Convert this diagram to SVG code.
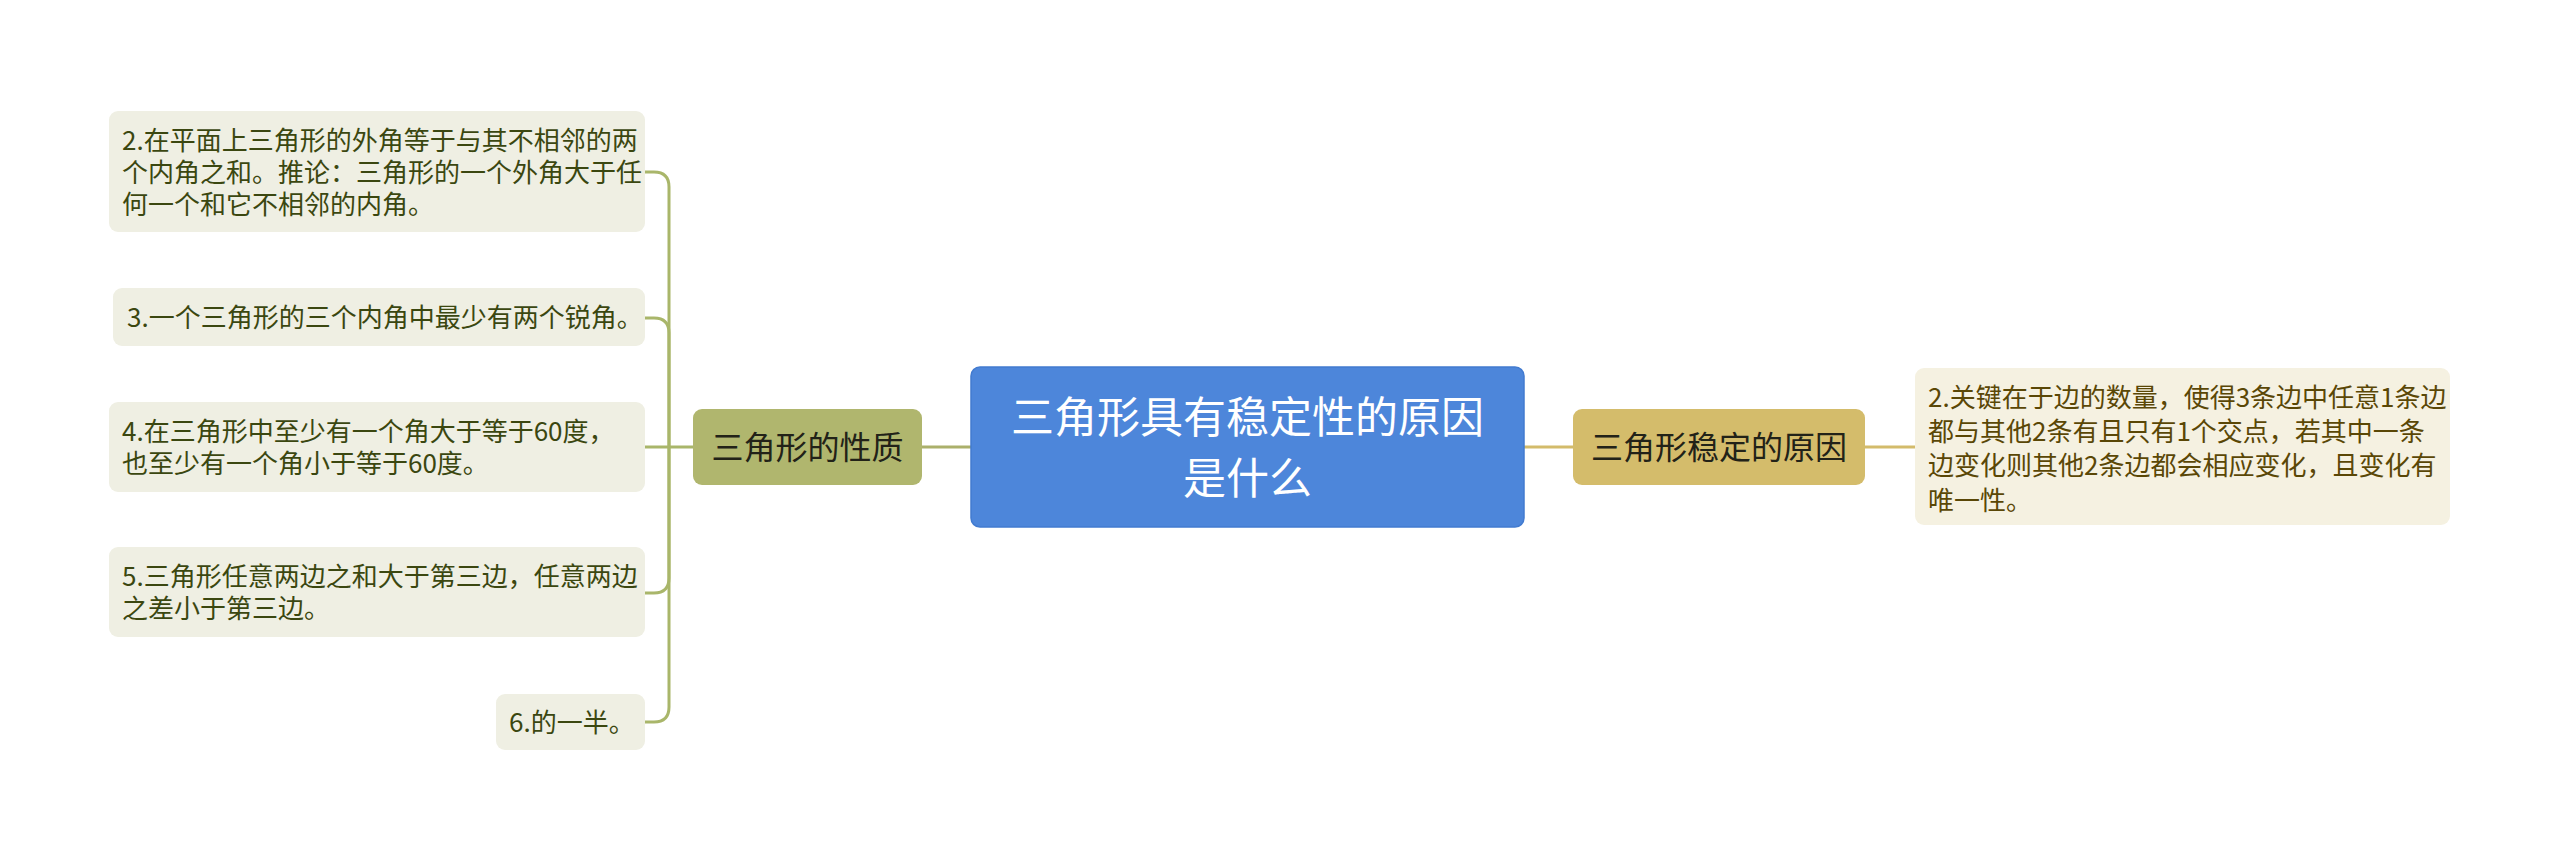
<svg xmlns="http://www.w3.org/2000/svg" width="2560" height="861" viewBox="0 0 2560 861">
<style>
text{font-family:"Noto Sans CJK SC","Noto Sans",sans-serif;}
.leaf{fill:#efefe3;}
.leaft{font-size:26px;fill:#3b4710;}
.rleaf{fill:#f5f1e1;}
.rleaft{font-size:26px;fill:#5a4706;}
.l1{fill:#b0b66e;}
.l1r{fill:#d4bc6b;}
.l1t{font-size:32px;fill:#222218;text-anchor:middle;}
.root{fill:#4d86da;stroke:#427bd0;stroke-width:1.5;}
.roott{font-size:43px;fill:#ffffff;text-anchor:middle;}
.cl{fill:none;stroke:#a9b66a;stroke-width:3;}
.cr{fill:none;stroke:#d3bb6b;stroke-width:3;}
</style>
<rect width="2560" height="861" fill="#ffffff"/>
<g id="connectors">
<path class="cl" d="M693,447 H645"/>
<path class="cl" d="M669,447 V187 Q669,172 654,172 H645"/>
<path class="cl" d="M669,447 V333 Q669,318 654,318 H645"/>
<path class="cl" d="M669,447 V578 Q669,593 654,593 H645"/>
<path class="cl" d="M669,447 V707 Q669,722 654,722 H645"/>
<path class="cl" d="M922,447 H971" style="stroke:#abb06b"/>
<path class="cr" d="M1524,447 H1573"/>
<path class="cr" d="M1865,447 H1915"/>
</g>
<g id="root">
<rect class="root" x="971" y="367" width="553" height="160" rx="9"/>
<text class="roott"><tspan x="1247.5" y="433">三角形具有稳定性的原因</tspan><tspan x="1247.5" y="494">是什么</tspan></text>
</g>
<g id="n-xingzhi">
<rect class="l1" x="693" y="409" width="229" height="76" rx="9"/>
<text class="l1t" x="807.5" y="459">三角形的性质</text>
</g>
<g id="n-yuanyin">
<rect class="l1r" x="1573" y="409" width="292" height="76" rx="9"/>
<text class="l1t" x="1719" y="459">三角形稳定的原因</text>
</g>
<g id="leaf2">
<rect class="leaf" x="109" y="111" width="536" height="121" rx="9"/>
<text class="leaft"><tspan x="122" y="149.5">2.在平面上三角形的外角等于与其不相邻的两</tspan><tspan x="122" y="181.5">个内角之和。推论：三角形的一个外角大于任</tspan><tspan x="122" y="213.5">何一个和它不相邻的内角。</tspan></text>
</g>
<g id="leaf3">
<rect class="leaf" x="113" y="288" width="532" height="58" rx="9"/>
<text class="leaft" x="127" y="327">3.一个三角形的三个内角中最少有两个锐角。</text>
</g>
<g id="leaf4">
<rect class="leaf" x="109" y="402" width="536" height="90" rx="9"/>
<text class="leaft"><tspan x="122" y="441">4.在三角形中至少有一个角大于等于60度，</tspan><tspan x="122" y="473">也至少有一个角小于等于60度。</tspan></text>
</g>
<g id="leaf5">
<rect class="leaf" x="109" y="547" width="536" height="90" rx="9"/>
<text class="leaft"><tspan x="122" y="586">5.三角形任意两边之和大于第三边，任意两边</tspan><tspan x="122" y="618">之差小于第三边。</tspan></text>
</g>
<g id="leaf6">
<rect class="leaf" x="496" y="694" width="149" height="56" rx="9"/>
<text class="leaft" x="509" y="732">6.的一半。</text>
</g>
<g id="leaf-right">
<rect class="rleaf" x="1915" y="368" width="535" height="157" rx="9"/>
<text class="rleaft"><tspan x="1928" y="407">2.关键在于边的数量，使得3条边中任意1条边</tspan><tspan x="1928" y="441">都与其他2条有且只有1个交点，若其中一条</tspan><tspan x="1928" y="475">边变化则其他2条边都会相应变化，且变化有</tspan><tspan x="1928" y="510">唯一性。</tspan></text>
</g>
</svg>
